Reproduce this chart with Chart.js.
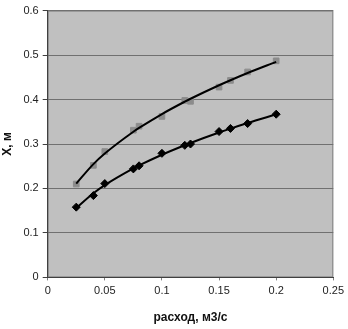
<!DOCTYPE html>
<html>
<head>
<meta charset="utf-8">
<script src="https://cdn.jsdelivr.net/npm/chart.js@4/dist/chart.umd.min.js"></script>
<style>
  html, body { margin: 0; padding: 0; background: #fff; }
  #wrap { width: 348px; height: 329px; }
</style>
</head>
<body>
<div id="wrap"><canvas id="chartX"></canvas></div>
<script>
// расход, м3/с
var flow = [0.025, 0.04, 0.05, 0.075, 0.08, 0.1, 0.12, 0.125, 0.15, 0.16, 0.175, 0.2];
// X, м - upper series (grey squares)
var xUpper = [0.210, 0.252, 0.283, 0.331, 0.340, 0.362, 0.398, 0.396, 0.428, 0.443, 0.462, 0.487];
// X, м - lower series (black diamonds)
var xLower = [0.158, 0.184, 0.211, 0.244, 0.251, 0.279, 0.297, 0.300, 0.328, 0.335, 0.346, 0.367];
var xTicks = [0, 0.05, 0.1, 0.15, 0.2, 0.25];
var yTicks = [0, 0.1, 0.2, 0.3, 0.4, 0.5, 0.6];

function pts(ys) {
  return flow.map(function (f, i) { return { x: f, y: ys[i] }; });
}

// power trendline (least squares in log-log), evaluated at the measured flows
function powerTrend(ys) {
  var n = flow.length, sx = 0, sy = 0, sxx = 0, sxy = 0;
  for (var i = 0; i < n; i++) {
    var lx = Math.log(flow[i]), ly = Math.log(ys[i]);
    sx += lx; sy += ly; sxx += lx * lx; sxy += lx * ly;
  }
  var b = (n * sxy - sx * sy) / (n * sxx - sx * sx);
  var a = Math.exp((sy - b * sx) / n);
  return flow.map(function (f) { return { x: f, y: a * Math.pow(f, b) }; });
}

var plotBg = {
  id: 'plotBg',
  beforeDraw: function (chart) {
    var a = chart.chartArea, c = chart.ctx;
    c.save();
    c.fillStyle = '#c0c0c0';
    c.fillRect(a.left, a.top, a.right - a.left, a.bottom - a.top);
    c.strokeStyle = '#808080';
    c.lineWidth = 1;
    c.strokeRect(a.left + 0.5, a.top + 0.5, a.right - a.left - 1, a.bottom - a.top - 1);
    c.restore();
  }
};

var ctx = document.getElementById('chartX');
var chartX = new Chart(ctx, {
  type: 'scatter',
  data: {
    datasets: [{
      label: 'upper',
      data: pts(xUpper),
      showLine: false,
      pointStyle: 'rect',
      pointRadius: 4,
      pointBackgroundColor: '#8c8c8c',
      pointBorderColor: '#8c8c8c',
      order: 3
    }, {
      label: 'lower',
      data: pts(xLower),
      showLine: false,
      pointStyle: 'rectRot',
      pointRadius: 4,
      pointBackgroundColor: '#000',
      pointBorderColor: '#000',
      order: 3
    }, {
      label: 'upper trend',
      data: powerTrend(xUpper),
      showLine: true,
      cubicInterpolationMode: 'monotone',
      borderColor: '#000',
      borderWidth: 2,
      pointRadius: 0,
      order: 1
    }, {
      label: 'lower trend',
      data: powerTrend(xLower),
      showLine: true,
      cubicInterpolationMode: 'monotone',
      borderColor: '#000',
      borderWidth: 2,
      pointRadius: 0,
      order: 1
    }]
  },
  options: {
    responsive: true,
    maintainAspectRatio: false,
    animation: false,
    layout: { padding: { top: -4, right: -5, left: 0, bottom: 4 } },
    scales: {
      x: {
        type: 'linear',
        min: 0,
        max: 0.25,
        afterBuildTicks: function (s) { s.ticks = xTicks.map(function (v) { return { value: v }; }); },
        ticks: {
          color: '#222',
          font: { family: 'Liberation Sans', size: 11 },
          padding: 4,
          callback: function (v) { return String(v); }
        },
        grid: { drawOnChartArea: false, drawTicks: true, tickLength: 3, color: '#808080' },
        border: { color: '#404040', width: 1 },
        title: {
          display: true,
          text: 'расход, м3/с',
          color: '#111',
          font: { family: 'Liberation Sans', size: 12, weight: 'bold' },
          padding: { top: 9, bottom: 0 }
        }
      },
      y: {
        min: 0,
        max: 0.6,
        afterBuildTicks: function (s) { s.ticks = yTicks.map(function (v) { return { value: v }; }); },
        ticks: {
          color: '#222',
          font: { family: 'Liberation Sans', size: 11 },
          padding: 4,
          callback: function (v) { return String(v); }
        },
        grid: { color: '#707070', tickLength: 5, tickColor: '#404040' },
        border: { color: '#404040', width: 1 },
        title: {
          display: true,
          text: 'X, м',
          color: '#111',
          font: { family: 'Liberation Sans', size: 12, weight: 'bold' },
          padding: { top: 0, bottom: 5 }
        }
      }
    },
    plugins: {
      legend: { display: false },
      tooltip: { enabled: false }
    }
  },
  plugins: [plotBg]
});
</script>
</body>
</html>
